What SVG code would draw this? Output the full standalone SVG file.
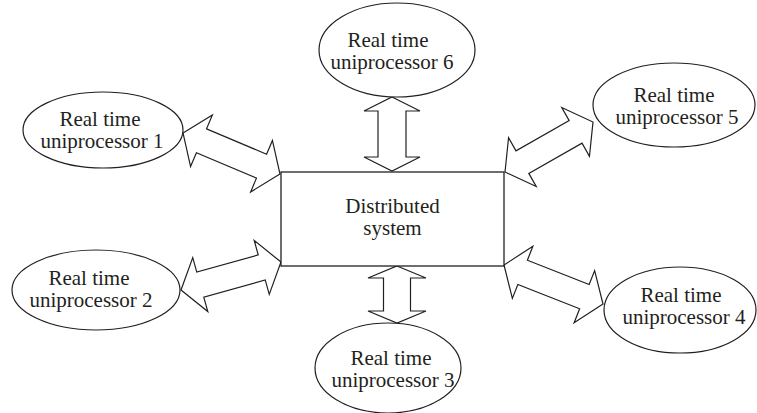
<svg xmlns="http://www.w3.org/2000/svg" width="757" height="413" viewBox="0 0 757 413">
  <style>
    .shape { fill: #ffffff; stroke: #231f20; stroke-width: 1.2; }
    .box { fill: #ffffff; stroke: #231f20; stroke-width: 1.3; }
    .link { fill: #ffffff; stroke: #231f20; stroke-width: 1.2; stroke-linejoin: miter; }
    .label { font-family: "Liberation Serif", "Times New Roman", serif; font-size: 21px; fill: #231f20; text-anchor: middle; }
  </style>
  <rect width="757" height="413" fill="#ffffff"/>

  <!-- double-headed block arrows between the central system and each processor -->
  <g id="connectors">
    <polygon class="link" transform="translate(231.5,153.5) rotate(22.9)" points="-52.6,0 -32.6,-28 -32.6,-13 32.6,-13 32.6,-28 52.6,0 32.6,28 32.6,13 -32.6,13 -32.6,28"/>
    <polygon class="link" transform="translate(231,276) rotate(-15.6)" points="-51.9,0 -31.9,-28 -31.9,-13 31.9,-13 31.9,-28 51.9,0 31.9,28 31.9,13 -31.9,13 -31.9,28"/>
    <polygon class="link" transform="translate(549,147) rotate(-29.6)" points="-50.6,0 -30.6,-28 -30.6,-13 30.6,-13 30.6,-28 50.6,0 30.6,28 30.6,13 -30.6,13 -30.6,28"/>
    <polygon class="link" transform="translate(553.5,284.5) rotate(21.5)" points="-53.2,0 -33.2,-28 -33.2,-13 33.2,-13 33.2,-28 53.2,0 33.2,28 33.2,13 -33.2,13 -33.2,28"/>
    <polygon class="link" points="392,97 420,111 406,111 406,157 420,157 392,171 364,157 378,157 378,111 364,111"/>
    <polygon class="link" points="397,266 426,278 410.5,278 410.5,311 426,311 397,323 368,311 383.5,311 383.5,278 368,278"/>
  </g>

  <g id="distributed-system">
    <rect class="box" x="281" y="172" width="223" height="94"/>
    <text class="label" x="392.5" y="213">Distributed</text>
    <text class="label" x="392.5" y="235">system</text>
  </g>

  <g id="uniprocessor-1">
    <ellipse class="shape" cx="103" cy="130" rx="80" ry="38"/>
    <text class="label" x="100" y="126">Real time</text>
    <text class="label" x="102" y="148">uniprocessor 1</text>
  </g>

  <g id="uniprocessor-2">
    <ellipse class="shape" cx="96" cy="290" rx="84" ry="40"/>
    <text class="label" x="89" y="285">Real time</text>
    <text class="label" x="91" y="307">uniprocessor 2</text>
  </g>

  <g id="uniprocessor-3">
    <ellipse class="shape" cx="388" cy="368" rx="73" ry="45"/>
    <text class="label" x="391" y="365">Real time</text>
    <text class="label" x="393" y="387">uniprocessor 3</text>
  </g>

  <g id="uniprocessor-4">
    <ellipse class="shape" cx="680" cy="310" rx="76" ry="43"/>
    <text class="label" x="681" y="302">Real time</text>
    <text class="label" x="684" y="324">uniprocessor 4</text>
  </g>

  <g id="uniprocessor-5">
    <ellipse class="shape" cx="674" cy="105" rx="81" ry="42"/>
    <text class="label" x="674" y="102">Real time</text>
    <text class="label" x="677" y="124">uniprocessor 5</text>
  </g>

  <g id="uniprocessor-6">
    <ellipse class="shape" cx="397" cy="50" rx="78" ry="47"/>
    <text class="label" x="388" y="47">Real time</text>
    <text class="label" x="392" y="69">uniprocessor 6</text>
  </g>
</svg>
